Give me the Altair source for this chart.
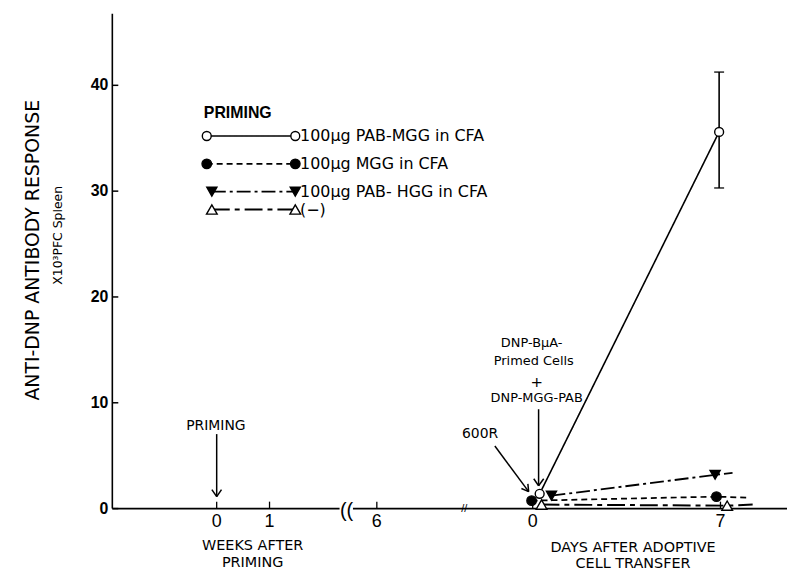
import altair as alt
import pandas as pd

# ---------------- data ----------------
series = ["100μg PAB-MGG in CFA", "100μg MGG in CFA", "100μg PAB- HGG in CFA", "(−)"]
day0_x = [0.26, -0.04, 0.70, 0.33]
day0_y = [1.40, 0.75, 1.22, 0.38]
day7_x = [6.95, 6.85, 6.80, 7.25]
day7_y = [35.6, 1.13, 3.19, 0.28]
tail_x = [None, 8.0, 7.45, 8.2]
tail_y = [None, 1.03, 3.38, 0.38]
err_x = 6.95
err_lo = 30.3
err_hi = 41.25

y_ticks = [0, 10, 20, 30, 40]
y_tick_lab = ["0", "10", "20", "30", "40"]
x_tick_pos = [-11.78, -9.81, -5.81, 0, 7]
x_tick_lab = ["0", "1", "6", "0", "7"]

# ---------------- styles ----------------
dashes = [[1, 0], [6, 4], [14, 4, 3, 4], [18, 5, 5, 5]]
widths = [1.6, 2.0, 1.6, 1.6]
shapes = ["circle", "circle", "triangle-down", "triangle-up"]
fills = ["white", "black", "black", "white"]
sizes = [80, 115, 65, 60]
FONT = "Liberation Sans"
WFONT = "DejaVu Sans"
W, H = 679, 498

xs = alt.Scale(domain=[-15.67, 9.48], nice=False, zero=False)
ys = alt.Scale(domain=[0, 46.76], nice=False, zero=False)


def X(f):
    return alt.X(f, type="quantitative", scale=xs, axis=None)


def Y(f):
    return alt.Y(f, type="quantitative", scale=ys, axis=None)


dash_enc = alt.StrokeDash("series:N", scale=alt.Scale(domain=series, range=dashes), legend=None)
width_enc = alt.StrokeWidth("series:N", scale=alt.Scale(domain=series, range=widths), legend=None)
shape_enc = alt.Shape("series:N", scale=alt.Scale(domain=series, range=shapes), legend=None)
fill_enc = alt.Fill("series:N", scale=alt.Scale(domain=series, range=fills), legend=None)
size_enc = alt.Size("series:N", scale=alt.Scale(domain=series, range=sizes), legend=None)

# line table
line_rows = []
for i, s in enumerate(series):
    line_rows.append({"series": s, "o": 0, "x": day0_x[i], "y": day0_y[i]})
    line_rows.append({"series": s, "o": 1, "x": day7_x[i], "y": day7_y[i]})
    if tail_x[i] is not None:
        line_rows.append({"series": s, "o": 2, "x": tail_x[i], "y": tail_y[i]})
lines_df = pd.DataFrame(line_rows)

pt_rows = []
for i, s in enumerate(series):
    pt_rows.append({"series": s, "x": day0_x[i], "y": day0_y[i]})
    pt_rows.append({"series": s, "x": day7_x[i], "y": day7_y[i]})
pts_df = pd.DataFrame(pt_rows)

one = pd.DataFrame({"a": [0]})

# axes drawn by hand
yline = alt.Chart(one).mark_rule(color="black", strokeWidth=1.6).encode(
    x=alt.value(0), y=alt.value(0), y2=alt.value(H))
xline = alt.Chart(one).mark_rule(color="black", strokeWidth=1.6).encode(
    x=alt.value(0), x2=alt.value(W), y=alt.value(H))
yticks_df = pd.DataFrame({"y": y_ticks, "lab": y_tick_lab})
yticks = alt.Chart(yticks_df).mark_rule(color="black", strokeWidth=1.5).encode(
    x=alt.value(0), x2=alt.value(6), y=Y("y"))
ylabels = alt.Chart(yticks_df).mark_text(font=FONT, fontSize=16, fontWeight="bold", align="right",
                                          baseline="middle", color="black").encode(
    x=alt.value(-4), y=Y("y"), text="lab:N")
xticks_df = pd.DataFrame({"x": x_tick_pos, "lab": x_tick_lab})
xticks = alt.Chart(xticks_df).mark_rule(color="black", strokeWidth=1.3).encode(
    x=X("x"), y=alt.value(H - 7), y2=alt.value(H))
xlabels = alt.Chart(xticks_df).mark_text(font=FONT, fontSize=18, baseline="middle", color="black").encode(
    x=X("x"), y=alt.value(H + 14), text="lab:N")

# axis breaks
breaks_df = pd.DataFrame({"x": [-7.2, -2.55], "x2": [-6.7, -2.45], "t": ["((", "//"]})
break_white = alt.Chart(breaks_df.iloc[:1]).mark_rule(color="white", strokeWidth=5).encode(
    x=X("x"), x2="x2:Q", y=alt.value(H))
break_big = alt.Chart(breaks_df.iloc[:1]).mark_text(font=FONT, fontSize=20, color="black", baseline="middle",
                                                     dx=7).encode(
    x=X("x"), y=alt.value(H + 2), text="t:N")
break_small = alt.Chart(breaks_df.iloc[1:]).mark_text(font=FONT, fontSize=11, color="black", baseline="middle").encode(
    x=X("x"), y=alt.value(H), text="t:N")

# data lines and points
lines = alt.Chart(lines_df).mark_line(color="black").encode(
    x=X("x"), y=Y("y"), detail="series:N", order="o:Q", strokeDash=dash_enc, strokeWidth=width_enc)
errbar = alt.Chart(pd.DataFrame({"x": [err_x], "lo": [err_lo], "hi": [err_hi]})).mark_rule(
    color="black", strokeWidth=1.6).encode(x=X("x"), y=Y("lo"), y2="hi:Q")
caps = alt.Chart(pd.DataFrame({"x": [err_x, err_x], "y": [err_lo, err_hi]})).mark_tick(
    orient="horizontal", size=10, thickness=1.8, color="black").encode(x=X("x"), y=Y("y"))
points = alt.Chart(pts_df).mark_point(stroke="black", strokeWidth=1.4, opacity=1, fillOpacity=1).encode(
    x=X("x"), y=Y("y"), shape=shape_enc, fill=fill_enc, size=size_enc)

# legend (layout positions)
leg_y = [35.21, 32.58, 29.95, 28.26]
leg_x1 = [-12.15, -12.15, -11.96, -11.96]
leg_x2 = -8.85
leg_tx = -8.67
leg_line_rows, leg_pt_rows, leg_txt_rows = [], [], []
for i, s in enumerate(series):
    leg_line_rows += [{"series": s, "o": 0, "x": leg_x1[i], "y": leg_y[i]},
                      {"series": s, "o": 1, "x": leg_x2, "y": leg_y[i]}]
    leg_pt_rows += [{"series": s, "x": leg_x1[i], "y": leg_y[i]},
                    {"series": s, "x": leg_x2, "y": leg_y[i]}]
    leg_txt_rows.append({"series": s, "x": leg_tx, "y": leg_y[i]})
leg_lines = alt.Chart(pd.DataFrame(leg_line_rows)).mark_line(color="black").encode(
    x=X("x"), y=Y("y"), detail="series:N", order="o:Q", strokeDash=dash_enc, strokeWidth=width_enc)
leg_pts = alt.Chart(pd.DataFrame(leg_pt_rows)).mark_point(stroke="black", strokeWidth=1.4, opacity=1, fillOpacity=1).encode(
    x=X("x"), y=Y("y"), shape=shape_enc, fill=fill_enc, size=size_enc)
leg_txt = alt.Chart(pd.DataFrame(leg_txt_rows)).mark_text(
    font=WFONT, fontSize=16, align="left", baseline="middle", color="black").encode(
    x=X("x"), y=Y("y"), text="series:N")
leg_title = alt.Chart(pd.DataFrame({"x": [-12.26], "y": [37.37], "t": ["PRIMING"]})).mark_text(
    font=FONT, fontSize=16, fontWeight="bold", align="left", baseline="middle", color="black").encode(
    x=X("x"), y=Y("y"), text="t:N")

# annotations
ann_df = pd.DataFrame({
    "x": [-11.81, -1.96, -0.04, 0.04, 0.15, 0.15],
    "y": [7.79, 7.04, 15.68, 13.99, 11.92, 10.42],
    "t": ["PRIMING", "600R", "DNP-BμA-", "Primed Cells", "+", "DNP-MGG-PAB"],
    "fs": [14, 14, 13, 13, 15, 13],
})
ann = alt.Chart(ann_df).mark_text(font=WFONT, baseline="middle", color="black").encode(
    x=X("x"), y=Y("y"), text="t:N", size=alt.Size("fs:Q", scale=None, legend=None))
arrows_df = pd.DataFrame({
    "x":  [-11.78, -11.96, -11.60, -1.41, -0.18, -0.42, 0.22, 0.04, 0.41],
    "y":  [7.04, 1.79, 1.79, 5.92, 2.34, 1.90, 9.39, 2.82, 2.82],
    "x2": [-11.78, -11.78, -11.78, -0.15, -0.15, -0.15, 0.22, 0.22, 0.22],
    "y2": [1.13, 1.13, 1.13, 1.60, 1.60, 1.60, 2.16, 2.16, 2.16],
})
arrows = alt.Chart(arrows_df).mark_rule(color="black", strokeWidth=1.5).encode(
    x=X("x"), y=Y("y"), x2="x2:Q", y2="y2:Q")

# axis titles
ytitle = alt.Chart(pd.DataFrame({"t": ["ANTI-DNP ANTIBODY RESPONSE"]})).mark_text(
    font=WFONT, fontSize=19, angle=270, baseline="middle", color="black").encode(
    x=alt.value(-80), y=alt.value(238), text="t:N")
ysub = alt.Chart(pd.DataFrame({"t": ["X10³PFC Spleen"]})).mark_text(
    font=WFONT, fontSize=12.5, angle=270, baseline="middle", color="black").encode(
    x=alt.value(-55), y=alt.value(223), text="t:N")
xt_df = pd.DataFrame({
    "x": [-10.44, -10.44, 3.74, 3.74],
    "py": [536, 553, 538, 554],
    "t": ["WEEKS AFTER", "PRIMING", "DAYS AFTER ADOPTIVE", "CELL TRANSFER"],
})
xtitles = alt.layer(*[
    alt.Chart(xt_df.iloc[[k]]).mark_text(font=WFONT, fontSize=14.5, baseline="middle", color="black").encode(
        x=X("x"), y=alt.value(float(xt_df.py[k])), text="t:N")
    for k in range(len(xt_df))
])

chart = alt.layer(
    yline, xline, break_white, break_big, break_small, yticks, ylabels, xticks, xlabels,
    lines, errbar, caps, points,
    leg_lines, leg_pts, leg_txt, leg_title,
    ann, arrows, ytitle, ysub, xtitles,
).properties(
    width=W, height=H,
    padding={"left": 105, "top": 4, "right": 0, "bottom": 64},
    autosize=alt.AutoSizeParams(type="none"),
).configure_view(stroke=None)

chart.save("out.html", embed_options={"renderer": "svg", "actions": False})
